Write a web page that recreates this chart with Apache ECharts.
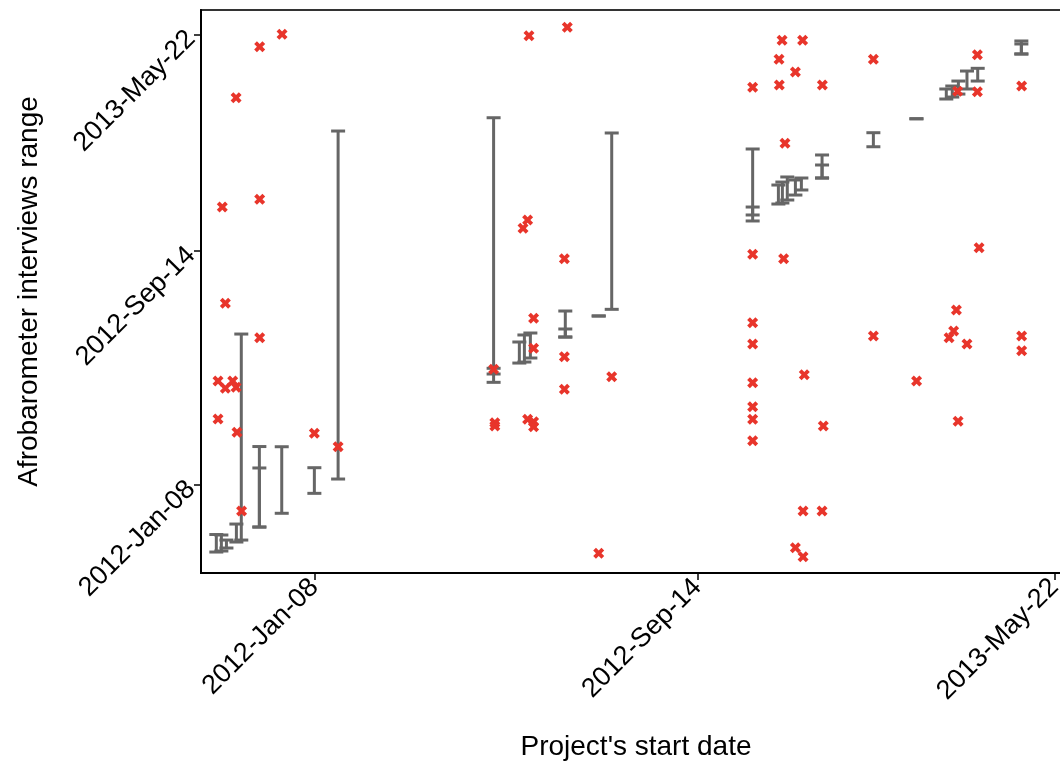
<!DOCTYPE html>
<html>
<head>
<meta charset="utf-8">
<script src="https://cdn.jsdelivr.net/npm/echarts@6/dist/echarts.min.js"></script>
<style>html,body{margin:0;padding:0;background:#fff;}#chart{width:1060px;height:763px;}</style>
</head>
<body>
<div id="chart"></div>
<script>
// Values are days since 2012-01-08
const tickLabels = ['2012-Jan-08', '2012-Sep-14', '2013-May-22'];
const xTickValues = [0, 250, 483];
const yTickValues = [0, 250, 481];

// Error bars: project start (x), interview range low/high (y)
const barX    = [-64.0, -60.7, -57.4, -50.9, -47.7, -35.9, -35.9, -21.3, 0, 15.5, 117.0, 117.0, 133.8, 137.1, 141.0, 163.8, 163.8, 185.6, 194.1, 286.1, 286.1, 302.9, 305.5, 308.7, 314.0, 317.9, 331.4, 331.4, 364.9, 393.0, 412.5, 416.4, 420.4, 426.0, 433.0, 461.5, 461.5];
const barLow  = [-71.6, -70.5, -67.3, -60.9, -58.8, -44.9, -44.9, -30.2, -8.9, 6.4, 118.6, 109.7, 130.3, 131.4, 135.7, 158.1, 158.1, 180.6, 187.7, 288.5, 282.1, 300.2, 301.3, 304.5, 309.8, 315.2, 328.0, 328.0, 361.4, 391.3, 412.4, 414.5, 417.7, 423.1, 431.6, 460.5, 460.5];
const barHigh = [-52.9, -53.4, -58.8, -41.7, 161.3, 41.1, 18.2, 40.9, 18.5, 378.2, 392.4, 124.7, 152.8, 160.3, 162.4, 185.9, 166.7, 180.6, 376.1, 359.0, 297.0, 320.5, 323.7, 329.1, 325.9, 328.0, 352.6, 341.9, 376.4, 391.3, 423.1, 426.3, 431.6, 442.3, 445.2, 474.4, 471.2];

// Individual interviews (red crosses)
const pointX = [-21.1, -35.7, -51.1, -35.7, -60.1, -58.1, -35.7, -62.9, -58.1, -53.3, -51.1, -62.9, -50.5, -47.5, 0, 15.5, 117.0, 117.8, 117.8, 140.1, 165.1, 139.2, 136.2, 163.2, 143.1, 143.1, 163.2, 163.2, 194.1, 139.2, 143.1, 143.1, 185.6, 305.3, 318.7, 303.3, 314.0, 286.1, 303.5, 331.6, 364.9, 307.2, 432.8, 419.9, 432.8, 461.7, 286.1, 306.3, 433.9, 286.1, 286.1, 286.1, 286.1, 286.1, 286.1, 319.8, 332.2, 364.9, 393.1, 419.1, 417.3, 414.3, 426.0, 420.2, 461.7, 461.7, 319.0, 331.4, 314.0, 319.0];
const pointY = [481.5, 468.3, 413.8, 305.2, 297.0, 194.1, 157.4, 111.1, 103.3, 111.1, 104.4, 70.5, 56.3, -27.8, 55.2, 40.9, 123.6, 66.6, 63.0, 480.0, 489.0, 283.1, 274.3, 241.8, 178.1, 146.0, 137.1, 102.2, 115.7, 70.2, 67.6, 62.3, -73.0, 475.1, 475.1, 454.8, 441.2, 424.9, 427.4, 427.4, 454.8, 365.1, 459.7, 420.6, 420.2, 426.3, 246.5, 241.8, 253.5, 173.4, 150.6, 109.3, 83.7, 70.2, 47.3, 117.8, 63.0, 159.2, 111.1, 187.0, 164.5, 157.4, 150.6, 68.1, 159.2, 143.5, -27.8, -27.8, -67.0, -76.6];

const barData = barX.map((x, i) => [x, barLow[i], barHigh[i]]);
const pointData = pointX.map((x, i) => [x, pointY[i]]);

function labelFor(values) {
  return function (v) {
    let best = 0;
    for (let i = 1; i < values.length; i++) {
      if (Math.abs(values[i] - v) < Math.abs(values[best] - v)) best = i;
    }
    return tickLabels[best];
  };
}

const FONT = "'Liberation Sans', Arial, Helvetica, sans-serif";
const chart = echarts.init(document.getElementById('chart'), null, {renderer: 'canvas'});
chart.setOption({
  animation: false,
  backgroundColor: '#fff',
  grid: {
    left: 201, top: 10, width: 870, height: 563,
    containLabel: false, outerBoundsMode: 'none',
    show: true, borderColor: '#333', borderWidth: 2, backgroundColor: '#fff'
  },
  xAxis: {
    type: 'value', min: -74, max: 493.9,
    name: "Project's start date", nameLocation: 'middle', nameGap: 160,
    nameTextStyle: {fontFamily: FONT, fontSize: 28, color: '#000'},
    splitLine: {show: false},
    axisLine: {show: true, onZero: false, lineStyle: {color: '#000', width: 2}},
    axisTick: {show: true, customValues: xTickValues, length: 7, lineStyle: {color: '#000', width: 1.5}},
    axisLabel: {
      customValues: xTickValues, rotate: 45, margin: 10,
      fontFamily: FONT, fontSize: 27, color: '#000',
      formatter: labelFor(xTickValues)
    }
  },
  yAxis: {
    type: 'value', min: -94, max: 507.5,
    name: 'Afrobarometer interviews range', nameLocation: 'middle', nameGap: 158,
    nameTextStyle: {fontFamily: FONT, fontSize: 28, color: '#000'},
    splitLine: {show: false},
    axisLine: {show: true, onZero: false, lineStyle: {color: '#000', width: 2}},
    axisTick: {show: true, customValues: yTickValues, length: 7, lineStyle: {color: '#000', width: 1.5}},
    axisLabel: {
      customValues: yTickValues, rotate: 45, margin: 10,
      fontFamily: FONT, fontSize: 27, color: '#000',
      formatter: labelFor(yTickValues)
    }
  },
  series: [
    {
      type: 'custom',
      name: 'Interview range',
      data: barData,
      encode: {x: 0, y: [1, 2]},
      renderItem: function (params, api) {
        const x = api.value(0), lo = api.value(1), hi = api.value(2);
        const pLo = api.coord([x, lo]);
        const pHi = api.coord([x, hi]);
        const hw = 7;
        const st = {stroke: '#666666', lineWidth: 3};
        return {
          type: 'group',
          children: [
            {type: 'line', shape: {x1: pLo[0], y1: pLo[1], x2: pHi[0], y2: pHi[1]}, style: st},
            {type: 'line', shape: {x1: pLo[0] - hw, y1: pLo[1], x2: pLo[0] + hw, y2: pLo[1]}, style: st},
            {type: 'line', shape: {x1: pHi[0] - hw, y1: pHi[1], x2: pHi[0] + hw, y2: pHi[1]}, style: st}
          ]
        };
      },
      z: 2
    },
    {
      type: 'scatter',
      name: 'Interviews',
      data: pointData,
      symbol: 'path://M0,2.5 L2.5,0 L5,2.5 L7.5,0 L10,2.5 L7.5,5 L10,7.5 L7.5,10 L5,7.5 L2.5,10 L0,7.5 L2.5,5 Z',
      symbolSize: 11,
      itemStyle: {color: '#e8352b', opacity: 1},
      z: 3
    }
  ]
});
</script>
</body>
</html>
